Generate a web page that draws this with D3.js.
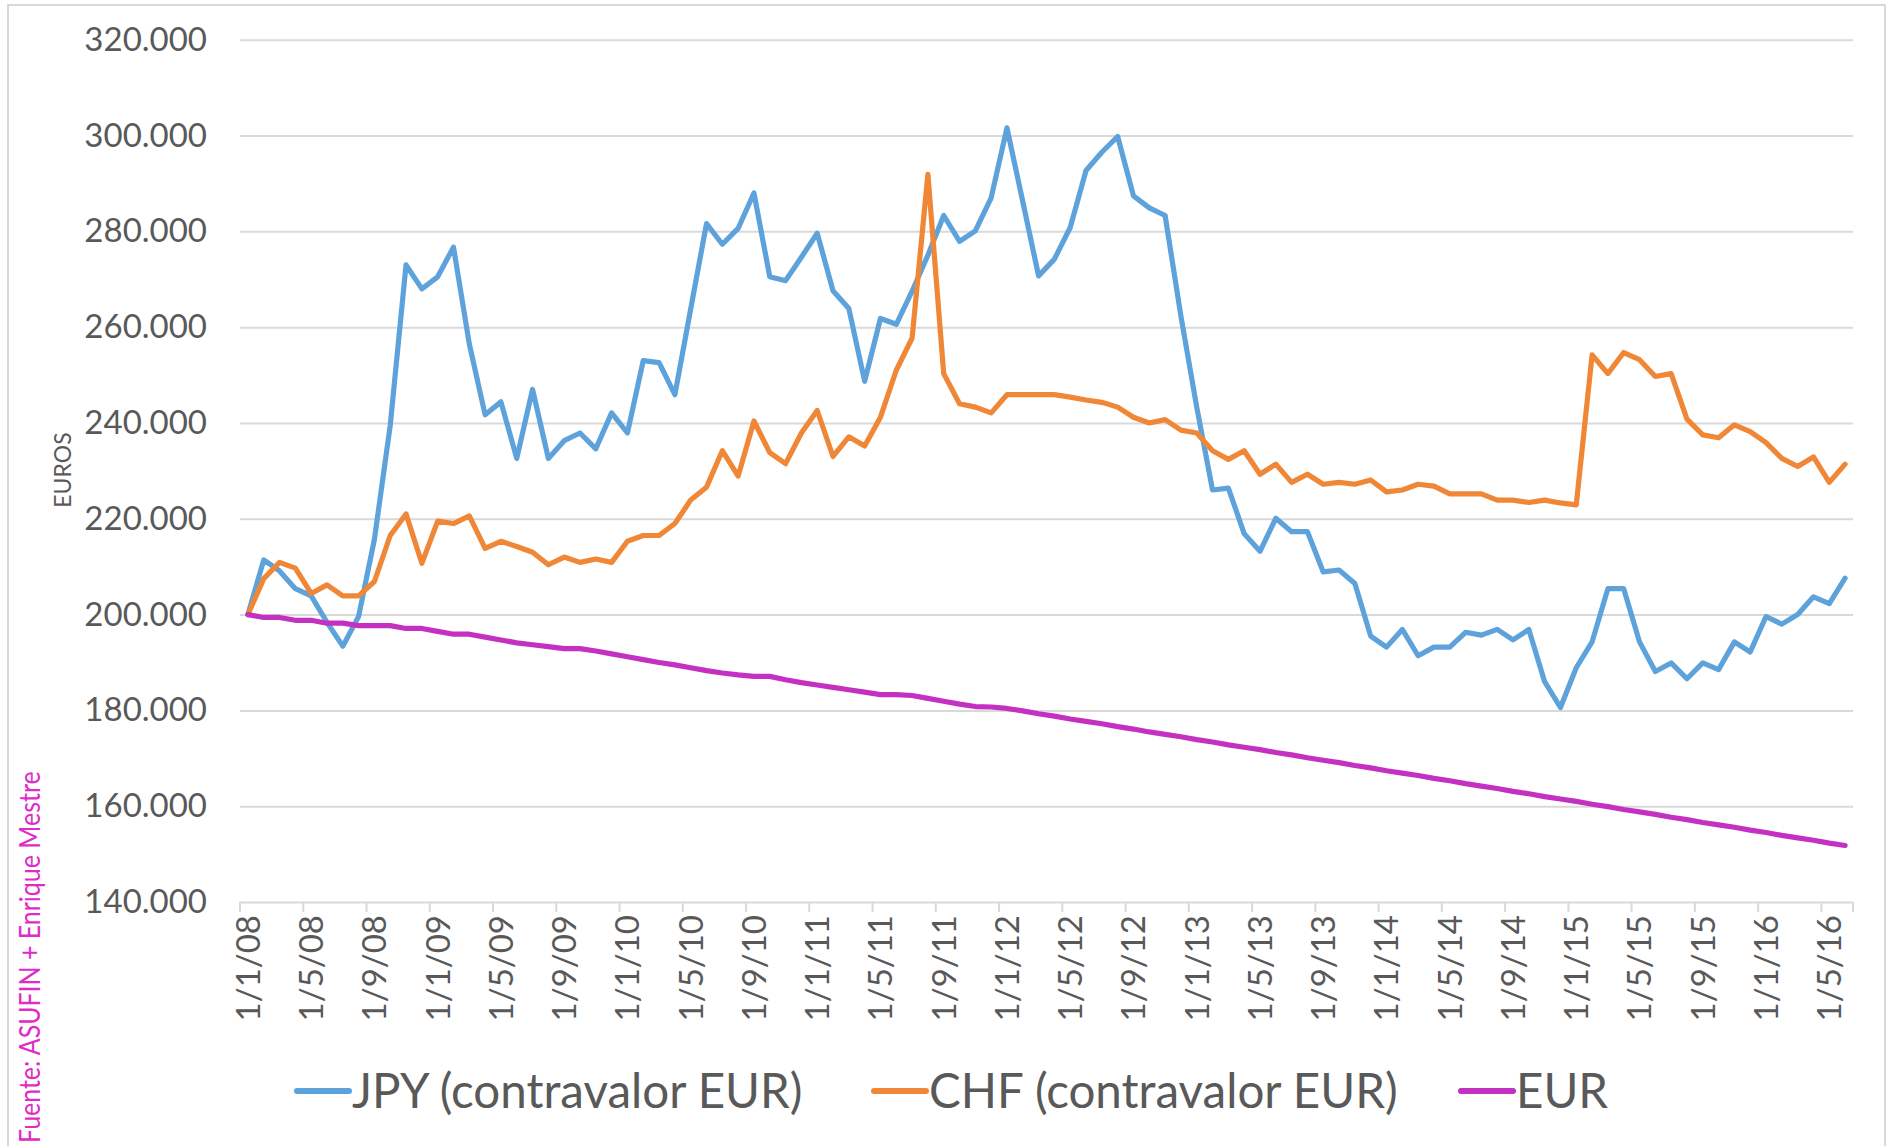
<!DOCTYPE html>
<html>
<head>
<meta charset="utf-8">
<script src="https://cdn.jsdelivr.net/npm/d3@7"></script>
<style>
  html, body { margin: 0; padding: 0; background: #fff; }
  svg { display: block; }
</style>
</head>
<body>
<div id="chart"></div>
<script>
"use strict";

// monthly values, thousands of euros, Jan 2008 .. Jun 2016
var jpyValues = [
    200.0, 211.4, 209.1, 205.4, 203.9, 198.4, 193.4, 199.6, 215.7, 239.5,
    273.0, 268.0, 270.5, 276.7, 256.5, 241.7, 244.4, 232.6, 247.0, 232.6,
    236.3, 237.9, 234.6, 242.1, 237.9, 253.0, 252.6, 245.9, 263.8, 281.6,
    277.3, 280.6, 288.0, 270.5, 269.7, 274.6, 279.6, 267.6, 263.9, 248.7,
    261.8, 260.6, 267.5, 275.0, 283.3, 277.9, 280.1, 287.0, 301.6, 286.2,
    270.7, 274.2, 280.8, 292.7, 296.5, 299.8, 287.4, 284.9, 283.3, 262.3,
    243.3, 226.0, 226.4, 216.9, 213.2, 220.1, 217.3, 217.3, 208.9, 209.3,
    206.5, 195.5, 193.2, 196.9, 191.4, 193.2, 193.2, 196.3, 195.7, 196.9,
    194.7, 196.9, 186.0, 180.6, 188.9, 194.3, 205.4, 205.4, 194.3, 188.1,
    189.9, 186.6, 189.9, 188.5, 194.3, 192.2, 199.6, 198.0, 200.0, 203.7,
    202.3, 207.6
];

var chfValues = [
    200.0, 207.5, 210.9, 209.7, 204.4, 206.2, 203.9, 203.9, 206.9, 216.5,
    221.0, 210.7, 219.5, 219.0, 220.6, 213.8, 215.3, 214.2, 213.0, 210.4,
    212.0, 210.9, 211.6, 210.9, 215.3, 216.5, 216.5, 219.0, 223.9, 226.6,
    234.2, 228.9, 240.4, 233.8, 231.5, 237.9, 242.6, 233.0, 237.1, 235.2,
    241.2, 251.0, 257.7, 291.9, 250.3, 244.0, 243.3, 242.1, 245.9, 245.9,
    245.9, 245.9, 245.4, 244.8, 244.3, 243.3, 241.2, 240.0, 240.7, 238.5,
    237.9, 234.2, 232.4, 234.2, 229.3, 231.4, 227.6, 229.3, 227.2, 227.6,
    227.2, 228.1, 225.6, 226.0, 227.2, 226.8, 225.2, 225.2, 225.2, 223.9,
    223.9, 223.4, 223.9, 223.3, 222.9, 254.2, 250.3, 254.7, 253.2, 249.7,
    250.3, 240.8, 237.5, 236.9, 239.6, 238.2, 235.9, 232.6, 230.9, 232.9,
    227.6, 231.4
];

var eurValues = [
    200.0, 199.4, 199.4, 198.8, 198.8, 198.2, 198.2, 197.7, 197.7, 197.7,
    197.1, 197.1, 196.5, 195.9, 195.9, 195.3, 194.7, 194.1, 193.7, 193.3,
    192.9, 192.9, 192.4, 191.8, 191.2, 190.6, 190.0, 189.5, 188.9, 188.3,
    187.8, 187.4, 187.1, 187.1, 186.4, 185.8, 185.3, 184.8, 184.3, 183.8,
    183.3, 183.3, 183.1, 182.5, 181.9, 181.3, 180.8, 180.7, 180.4, 179.9,
    179.3, 178.8, 178.2, 177.7, 177.2, 176.6, 176.1, 175.5, 175.0, 174.5,
    173.9, 173.4, 172.8, 172.3, 171.8, 171.2, 170.7, 170.1, 169.6, 169.1,
    168.5, 168.0, 167.4, 166.9, 166.4, 165.8, 165.3, 164.7, 164.2, 163.7,
    163.1, 162.6, 162.0, 161.5, 161.0, 160.4, 159.9, 159.3, 158.8, 158.3,
    157.7, 157.2, 156.6, 156.1, 155.6, 155.0, 154.5, 153.9, 153.4, 152.9,
    152.3, 151.8
];

var xTickLabels = [
    "1/1/08", "1/5/08", "1/9/08", "1/1/09", "1/5/09", "1/9/09", "1/1/10",
    "1/5/10", "1/9/10", "1/1/11", "1/5/11", "1/9/11", "1/1/12", "1/5/12",
    "1/9/12", "1/1/13", "1/5/13", "1/9/13", "1/1/14", "1/5/14", "1/9/14",
    "1/1/15", "1/5/15", "1/9/15", "1/1/16", "1/5/16"
];

var yTicks = [140, 160, 180, 200, 220, 240, 260, 280, 300, 320];

var seriesNames = ["JPY (contravalor EUR)", "CHF (contravalor EUR)", "EUR"];
var seriesColours = ["#5DA2DA", "#EF8736", "#C431C2"];

var width = 1886;
var height = 1146;
var plot = { left: 240, right: 1853, top: 39.7, bottom: 902 };
var gridColour = "#D9D9D9";
var textColour = "#595959";
var font = "Lato, 'Open Sans', sans-serif";

// category labels d/m/yy for each month
var fmtMonth = d3.timeFormat("%-d/%-m/%y");
var months = d3.timeMonth.range(new Date(2008, 0, 1), new Date(2016, 6, 1)).map(fmtMonth);

var es = d3.formatLocale({ decimal: ",", thousands: ".", grouping: [3], currency: ["", " €"] });
var fmtEuro = es.format(",");

var svg = d3.select("#chart").append("svg")
    .attr("width", width)
    .attr("height", height);

svg.append("rect")
    .attr("width", width).attr("height", height)
    .style("fill", "#fff");

// outer chart border
svg.append("rect")
    .attr("x", 8).attr("y", 5)
    .attr("width", 1877).attr("height", 1160)
    .style("fill", "none")
    .style("stroke", gridColour)
    .style("stroke-width", 2);

var x = d3.scaleBand().domain(months).range([plot.left, plot.right]);
var y = d3.scaleLinear().domain([140, 320]).range([plot.bottom, plot.top]);

function xc(i) {
    return x(months[i]) + x.bandwidth() / 2;
}

//gridlines + y labels
var yAxis = svg.append("g")
    .attr("transform", "translate(" + plot.left + ",0)")
    .call(d3.axisLeft(y)
        .tickValues(yTicks)
        .tickSize(-(plot.right - plot.left))
        .tickPadding(33)
        .tickFormat(function (d) { return fmtEuro(d * 1000); }));

yAxis.select(".domain").remove();
yAxis.selectAll(".tick line")
    .style("stroke", gridColour)
    .style("stroke-width", 2);
yAxis.selectAll(".tick text")
    .style("font-family", font)
    .style("font-size", "33px")
    .style("fill", textColour);

//x axis
var xAxis = svg.append("g")
    .attr("transform", "translate(0," + plot.bottom + ")")
    .call(d3.axisBottom(x)
        .tickValues(xTickLabels)
        .tickSize(0));

xAxis.select(".domain").remove();
xAxis.selectAll(".tick text")
    .attr("transform", "rotate(-90)")
    .attr("x", -13)
    .attr("y", 0)
    .attr("dy", "0.36em")
    .style("text-anchor", "end")
    .style("font-family", font)
    .style("font-size", "33px")
    .style("fill", textColour);

// tick marks on the category boundaries
xAxis.selectAll("line.cat-tick")
    .data(xTickLabels)
    .enter().append("line")
    .attr("class", "cat-tick")
    .attr("x1", function (d) { return x(d); })
    .attr("x2", function (d) { return x(d); })
    .attr("y1", 0)
    .attr("y2", 10)
    .style("stroke", gridColour)
    .style("stroke-width", 2);

xAxis.append("line")
    .attr("x1", plot.right).attr("x2", plot.right)
    .attr("y1", 0).attr("y2", 10)
    .style("stroke", gridColour)
    .style("stroke-width", 2);

//lines
var line = d3.line()
    .x(function (d, i) { return xc(i); })
    .y(function (d) { return y(d); });

var allSeries = [jpyValues, chfValues, eurValues];

svg.selectAll("path.series")
    .data(allSeries)
    .enter().append("path")
    .attr("class", "series")
    .attr("d", line)
    .style("fill", "none")
    .style("stroke", function (d, i) { return seriesColours[i]; })
    .style("stroke-width", 5.2)
    .style("stroke-linejoin", "round")
    .style("stroke-linecap", "round");

//axis title
svg.append("text")
    .attr("transform", "translate(71,470) rotate(-90)")
    .attr("text-anchor", "middle")
    .style("font-family", font)
    .style("font-size", "23px")
    .style("fill", textColour)
    .text("EUROS");

//source note, squeezed along its length
svg.append("text")
    .attr("transform", "translate(40,1143) rotate(-90) scale(0.86,1)")
    .attr("text-anchor", "start")
    .style("font-family", font)
    .style("font-size", "29px")
    .style("fill", "#E02CC6")
    .text("Fuente: ASUFIN + Enrique Mestre");

//legend
var legendX = [297, 874, 1461];
var legendY = 1091;

var legend = svg.selectAll("g.legend")
    .data(seriesNames)
    .enter().append("g")
    .attr("class", "legend")
    .attr("transform", function (d, i) { return "translate(" + legendX[i] + "," + legendY + ")"; });

legend.append("line")
    .attr("x1", 0).attr("x2", 52)
    .attr("y1", 0).attr("y2", 0)
    .style("stroke", function (d, i) { return seriesColours[i]; })
    .style("stroke-width", 6)
    .style("stroke-linecap", "round");

legend.append("text")
    .attr("x", 55)
    .attr("dy", "0.36em")
    .style("font-family", font)
    .style("font-size", "47.5px")
    .style("fill", textColour)
    .text(function (d) { return d; });
</script>
</body>
</html>
